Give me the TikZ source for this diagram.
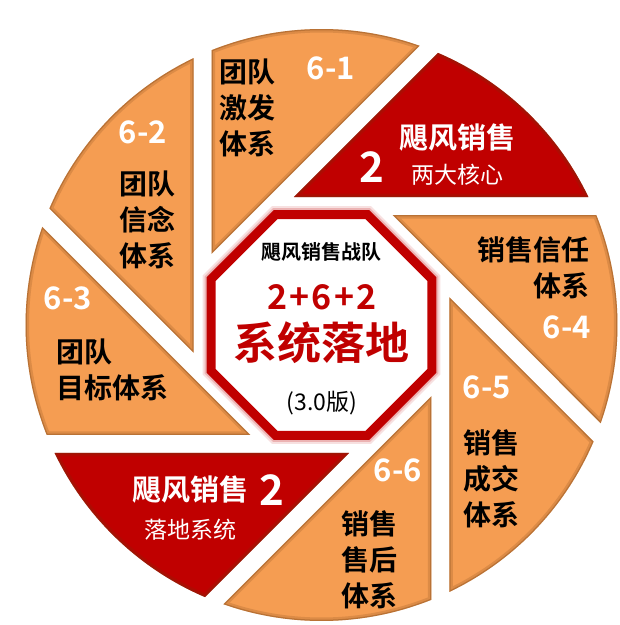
\documentclass[tikz,border=0pt]{standalone}
\usepackage{fontspec}
\setmainfont{Noto Sans CJK SC}[BoldFont={Noto Sans CJK SC Bold}]
\usetikzlibrary{calc}

\begin{document}
\begin{tikzpicture}[x=1pt, y=1pt,
    partno/.style={text=white, font=\bfseries\fontsize{31}{31}\selectfont},
    blocktext/.style={text=black, font=\bfseries\fontsize{28}{36}\selectfont, align=center},
    redtitle/.style={text=white, font=\bfseries\fontsize{29}{29}\selectfont},
    redsub/.style={text=white, font=\fontsize{23}{23}\selectfont},
    bigtwo/.style={text=white, font=\bfseries\fontsize{42}{42}\selectfont}]
    % Define sizes
    \def\Rout{296}
    \def\octR{119.6}

    \definecolor{bladeOrange}{HTML}{F59D52}
    \definecolor{bladeRed}{HTML}{C00000}
    \definecolor{shadeColour}{HTML}{6B3A10}

    % Fix the picture size
    \useasboundingbox (-321.5,-300) rectangle (298.5,325);

    % Draw the eight blades
    \foreach \ang/\col in {135/bladeOrange, 180/bladeOrange, 225/bladeOrange, 270/bladeRed,
                           315/bladeOrange, 0/bladeOrange, 45/bladeOrange, 90/bladeRed} {
        \pgfmathsetmacro{\angA}{\ang-64.38}
        \pgfmathsetmacro{\angB}{\ang-23.19}
        \pgfmathsetmacro{\angC}{\ang+12.15}
        \fill[\col] (\angC:130.93) -- (\angA:\Rout) arc[start angle=\angA, end angle=\angB, radius=\Rout pt] -- cycle;
        \begin{scope}
            \clip (\angC:130.93) -- (\angA:\Rout) arc[start angle=\angA, end angle=\angB, radius=\Rout pt] -- cycle;
            \draw[shadeColour, opacity=.18, line width=7pt] (\angC:130.93) -- (\angA:\Rout) arc[start angle=\angA, end angle=\angB, radius=\Rout pt] -- cycle;
            \draw[shadeColour, opacity=.3, line width=2.5pt] (\angC:130.93) -- (\angA:\Rout) arc[start angle=\angA, end angle=\angB, radius=\Rout pt] -- cycle;
        \end{scope}
    }

    % Draw the centre octagon with its glow
    \draw[bladeRed, opacity=.12, line width=17pt, line join=miter] (22.5:\octR) \foreach \k in {1,...,7} { -- (22.5+45*\k:\octR) } -- cycle;
    \draw[bladeRed, opacity=.2, line width=13pt, line join=miter] (22.5:\octR) \foreach \k in {1,...,7} { -- (22.5+45*\k:\octR) } -- cycle;
    \filldraw[fill=white, draw=bladeRed, line width=9pt, line join=miter] (22.5:\octR) \foreach \k in {1,...,7} { -- (22.5+45*\k:\octR) } -- cycle;

    % Centre texts
    \node[font=\bfseries\fontsize{20}{20}\selectfont] (team) at (0.5,73) {飓风销售战队};
    \node[text=bladeRed, font=\bfseries\fontsize{34}{34}\selectfont] (formula) at (0.5,28) {2\hspace{2pt}+\hspace{2pt}6\hspace{2pt}+\hspace{2pt}2};
    \node[text=bladeRed, font=\bfseries\fontsize{44}{44}\selectfont] (landing) at (0.5,-18) {系统落地};
    \node[font=\fontsize{23}{23}\selectfont] (version) at (0.5,-78) {(3.0版)};

    % Orange blade texts
    \node[partno] (p61) at (9.5,257) {6-1};
    \node[blocktext] (t61) at (-73.5,217) {团队\\激发\\体系};
    \node[partno] (p62) at (-178.5,193) {6-2};
    \node[blocktext] (t62) at (-173.5,105) {团队\\信念\\体系};
    \node[partno] (p63) at (-253.5,27) {6-3};
    \node[blocktext, align=left, anchor=west] (t63) at (-268.5,-45) {团队\\目标体系};
    \node[partno] (p64) at (245.5,-2) {6-4};
    \node[blocktext, align=right, anchor=east] (t64) at (272,57.5) {销售信任\\体系};
    \node[partno] (p65) at (165.5,-62) {6-5};
    \node[blocktext] (t65) at (170.5,-154) {销售\\成交\\体系};
    \node[partno] (p66) at (76.5,-145) {6-6};
    \node[blocktext] (t66) at (48.5,-235) {销售\\售后\\体系};

    % Red blade texts
    \node[redtitle] (coreTitle) at (136.5,187) {飓风销售};
    \node[redsub] (coreSub) at (136.5,150) {两大核心};
    \node[bigtwo] (coreTwo) at (50.5,158) {2};
    \node[redtitle] (landTitle) at (-130.5,-165) {飓风销售};
    \node[redsub] (landSub) at (-130.5,-205) {落地系统};
    \node[bigtwo] (landTwo) at (-49.5,-165) {2};

\end{tikzpicture}
\end{document}
